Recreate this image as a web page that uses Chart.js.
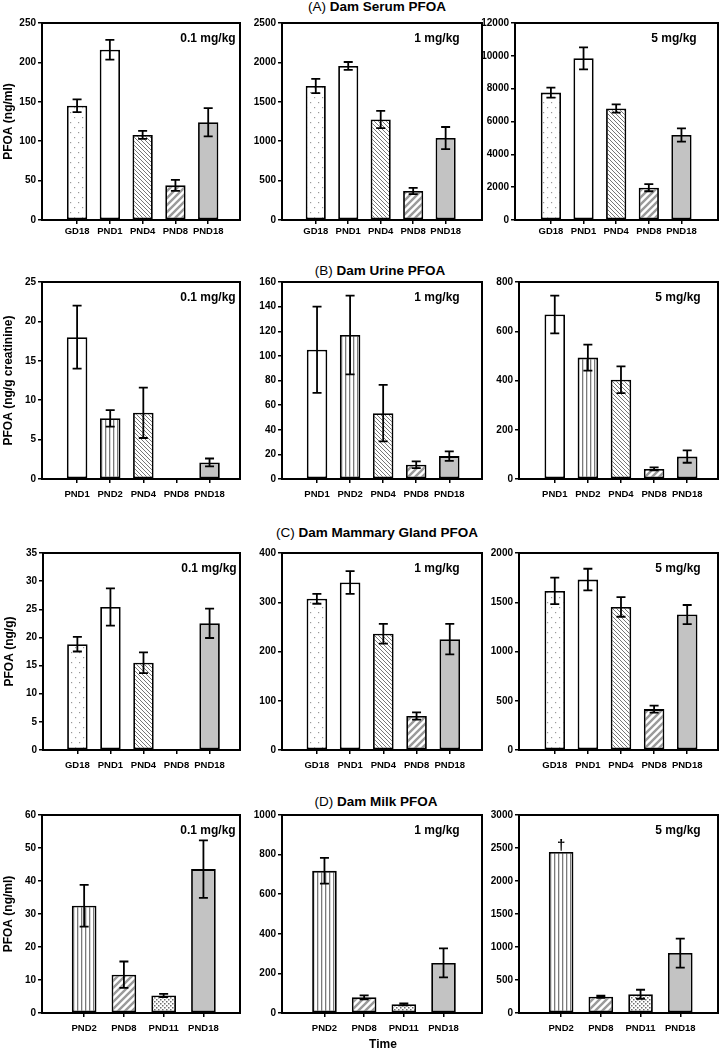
<!DOCTYPE html>
<html>
<head>
<meta charset="utf-8">
<title>Dam PFOA</title>
<script src="https://cdn.jsdelivr.net/npm/chart.js@4.4.1/dist/chart.umd.min.js"></script>
<style>
  body { margin: 0; background: #fff; }
  #fig { position: relative; width: 721px; height: 1049px; font-family: "Liberation Sans", Arial, sans-serif; color: #000; }
  #fig canvas { position: absolute; }
  .rowTitle { position: absolute; width: 300px; text-align: center; font-size: 13.5px; line-height: 16px; white-space: nowrap; }
  #timeLabel { position: absolute; width: 100px; text-align: center; font-size: 12px; font-weight: bold; line-height: 14px; }
</style>
</head>
<body>
<div id="fig"></div>
<script>
// categorias de cada fila
const serumCats = ['GD18', 'PND1', 'PND4', 'PND8', 'PND18'];
const urineCats = ['PND1', 'PND2', 'PND4', 'PND8', 'PND18'];
const mammaryCats = ['GD18', 'PND1', 'PND4', 'PND8', 'PND18'];
const milkCats = ['PND2', 'PND8', 'PND11', 'PND18'];
const doses = ['0.1 mg/kg', '1 mg/kg', '5 mg/kg'];

// (A) suero
const serumLow = [145, 216, 108, 44, 124];
const serumLowErr = [8, 12.5, 5, 7, 18];
const serumMid = [1700, 1955, 1275, 368, 1040];
const serumMidErr = [90, 50, 110, 40, 140];
const serumHigh = [7760, 9850, 6790, 1970, 5180];
const serumHighErr = [300, 670, 250, 220, 400];

// (B) orina
const urineLow = [18, 7.7, 8.4, null, 2.1];
const urineLowErr = [4, 1.05, 3.2, null, 0.5];
const urineMid = [105, 117, 53.5, 11.6, 18.6];
const urineMidErr = [35, 32, 23, 2.7, 3.8];
const urineHigh = [668, 493, 403, 41, 91];
const urineHighErr = [77, 53, 54, 6, 25];

// (C) glandula mamaria
const mammaryLow = [18.8, 25.4, 15.5, null, 22.5];
const mammaryLowErr = [1.3, 3.3, 1.85, null, 2.6];
const mammaryMid = [307, 340, 236, 69, 225];
const mammaryMidErr = [10, 23, 20, 7.5, 31];
const mammaryHigh = [1615, 1730, 1453, 415, 1375];
const mammaryHighErr = [135, 110, 100, 35, 97];

// (D) leche
const milkLow = [32.5, 11.6, 5.3, 43.6];
const milkLowErr = [6.3, 4, 0.5, 8.7];
const milkMid = [718, 79, 44, 253];
const milkMidErr = [65, 10, 5, 73];
const milkHigh = [2440, 246, 284, 908];
const milkHighErr = [null, 15, 68, 220];
const milkHighMark = ['\u2020', '', '', ''];

// ejes y
const serumMax = [250, 2500, 12000];
const serumStep = [50, 500, 2000];
const urineMax = [25, 160, 800];
const urineStep = [5, 20, 200];
const mammaryMax = [35, 400, 2000];
const mammaryStep = [5, 100, 500];
const milkMax = [60, 1000, 3000];
const milkStep = [10, 200, 500];

const rows = [
  { title: ['(A)', 'Dam Serum PFOA'], yTitle: 'PFOA (ng/ml)', cats: serumCats,
    values: [serumLow, serumMid, serumHigh], errors: [serumLowErr, serumMidErr, serumHighErr],
    marks: [null, null, null], yMax: serumMax, yStep: serumStep },
  { title: ['(B)', 'Dam Urine PFOA'], yTitle: 'PFOA (ng/g creatinine)', cats: urineCats,
    values: [urineLow, urineMid, urineHigh], errors: [urineLowErr, urineMidErr, urineHighErr],
    marks: [null, null, null], yMax: urineMax, yStep: urineStep },
  { title: ['(C)', 'Dam Mammary Gland PFOA'], yTitle: 'PFOA (ng/g)', cats: mammaryCats,
    values: [mammaryLow, mammaryMid, mammaryHigh], errors: [mammaryLowErr, mammaryMidErr, mammaryHighErr],
    marks: [null, null, null], yMax: mammaryMax, yStep: mammaryStep },
  { title: ['(D)', 'Dam Milk PFOA'], yTitle: 'PFOA (ng/ml)', cats: milkCats,
    values: [milkLow, milkMid, milkHigh], errors: [milkLowErr, milkMidErr, milkHighErr],
    marks: [null, null, milkHighMark], yMax: milkMax, yStep: milkStep }
];

// posiciones de cada panel (px)
const rowBox = [[23, 220], [282, 479], [553, 750], [815, 1013]];
const colBox = [
  [[42, 240], [282, 482], [515, 718]],
  [[42, 240], [282, 482], [519, 718]],
  [[43, 240], [282, 482], [519, 718]],
  [[42, 240], [282, 482], [519, 718]]
];
const xRange = [
  [[-1.07, 4.97], [-1.04, 5.12], [-1.10, 5.12]],
  [[-1.06, 4.92], [-1.06, 4.99], [-1.08, 4.93]],
  [[-1.04, 4.92], [-1.05, 4.97], [-1.08, 4.93]],
  [[-1.06, 3.92], [-1.07, 3.97], [-1.06, 3.95]]
];
const titleCenter = [[377, 7], [380, 271], [377, 533], [376, 802]];
const doseX = [166, 155, 159];
const tickPad = [2, 5.5, 5.5, 5.5];

const FONT = '"Liberation Sans", Arial, sans-serif';

// tramas de relleno
function makePattern(w, h, draw) {
  const c = document.createElement('canvas');
  c.width = w; c.height = h;
  const g = c.getContext('2d');
  g.fillStyle = '#fff';
  g.fillRect(0, 0, w, h);
  draw(g);
  return g.createPattern(c, 'repeat');
}

const fills = {
  GD18: makePattern(8, 10, g => {
    g.fillStyle = '#999999';
    g.fillRect(2, 2, 1.2, 1.2);
    g.fillRect(6, 7, 1.2, 1.2);
  }),
  PND1: '#ffffff',
  PND2: makePattern(4, 4, g => {
    g.fillStyle = '#7a7a7a';
    g.fillRect(1, 0, 1.3, 4);
  }),
  PND4: makePattern(4, 4, g => {
    g.strokeStyle = '#777777';
    g.lineWidth = 1;
    g.beginPath();
    g.moveTo(-1, -1); g.lineTo(5, 5);
    g.moveTo(-1, 3); g.lineTo(1, 5);
    g.moveTo(3, -1); g.lineTo(5, 1);
    g.stroke();
  }),
  PND8: makePattern(7, 7, g => {
    g.strokeStyle = '#9a9a9a';
    g.lineWidth = 2.4;
    g.beginPath();
    g.moveTo(-1, 8); g.lineTo(8, -1);
    g.moveTo(-4.5, 4.5); g.lineTo(4.5, -4.5);
    g.moveTo(2.5, 11.5); g.lineTo(11.5, 2.5);
    g.stroke();
  }),
  PND11: makePattern(4, 4, g => {
    g.fillStyle = '#6e6e6e';
    g.fillRect(0, 0, 1.5, 1.5);
    g.fillRect(2, 2, 1.5, 1.5);
  }),
  PND18: '#c3c3c3'
};

// barras de error, marco, dosis y marca
const panelDecor = {
  id: 'panelDecor',
  afterDatasetsDraw(chart, args, opts) {
    const { ctx, chartArea: a } = chart;
    const y = chart.scales.y;
    const meta = chart.getDatasetMeta(0);
    const pts = chart.data.datasets[0].data;
    ctx.save();
    ctx.strokeStyle = '#000';
    ctx.fillStyle = '#000';
    ctx.lineWidth = 1.8;
    meta.data.forEach((bar, i) => {
      const p = pts[i];
      if (p.err) {
        const yTop = y.getPixelForValue(p.y + p.err);
        const yBot = y.getPixelForValue(p.y - p.err);
        ctx.beginPath();
        ctx.moveTo(bar.x, yTop); ctx.lineTo(bar.x, yBot);
        ctx.moveTo(bar.x - 4.5, yTop); ctx.lineTo(bar.x + 4.5, yTop);
        ctx.moveTo(bar.x - 4.5, yBot); ctx.lineTo(bar.x + 4.5, yBot);
        ctx.stroke();
      }
      if (p.mark) {
        ctx.font = 'bold 15px ' + FONT;
        ctx.textAlign = 'center';
        ctx.textBaseline = 'bottom';
        ctx.fillText(p.mark, bar.x, bar.y + 1);
      }
    });
    ctx.lineWidth = 2;
    ctx.strokeRect(a.left, a.top, a.right - a.left, a.bottom - a.top);
    ctx.font = 'bold 12px ' + FONT;
    ctx.textAlign = 'center';
    ctx.textBaseline = 'middle';
    ctx.fillText(opts.dose, a.left + opts.doseX, a.top + 16);
    ctx.restore();
  }
};

const fig = document.getElementById('fig');

rows.forEach((row, r) => {
  const t = document.createElement('div');
  t.className = 'rowTitle';
  t.style.left = (titleCenter[r][0] - 150) + 'px';
  t.style.top = (titleCenter[r][1] - 8) + 'px';
  t.innerHTML = row.title[0] + ' <b>' + row.title[1] + '</b>';
  fig.appendChild(t);

  for (let c = 0; c < 3; c++) {
    const [L, R] = colBox[r][c];
    const [T, B] = rowBox[r];
    const yW = 42;
    const canvas = document.createElement('canvas');
    const w = (R - L) + yW + 6;
    const h = (B - T) + 8 + 22;
    canvas.width = w; canvas.height = h;
    canvas.style.width = w + 'px'; canvas.style.height = h + 'px';
    canvas.style.left = (L - yW) + 'px';
    canvas.style.top = (T - 8) + 'px';
    fig.appendChild(canvas);

    const cats = row.cats;
    const vals = row.values[c];
    const errs = row.errors[c];
    const marks = row.marks[c];
    const pts = [];
    const bg = [];
    vals.forEach((v, i) => {
      if (v === null) return;
      pts.push({ x: i, y: v, err: errs[i], mark: marks ? marks[i] : '' });
      bg.push(fills[cats[i]]);
    });

    new Chart(canvas.getContext('2d'), {
      type: 'bar',
      data: {
        datasets: [{
          data: pts,
          backgroundColor: bg,
          borderColor: '#000',
          borderWidth: 1.8,
          borderSkipped: false,
          barPercentage: 0.62,
          categoryPercentage: 1
        }]
      },
      plugins: [panelDecor],
      options: {
        responsive: false,
        animation: false,
        events: [],
        layout: { padding: { left: 0, top: 8, right: 6, bottom: 0 } },
        plugins: {
          legend: { display: false },
          tooltip: { enabled: false },
          panelDecor: { dose: doses[c], doseX: doseX[c] }
        },
        scales: {
          x: {
            type: 'linear',
            min: xRange[r][c][0],
            max: xRange[r][c][1],
            offset: false,
            border: { display: false },
            grid: { display: true, drawOnChartArea: false, offset: false, tickLength: 4, color: '#000', lineWidth: 1.5 },
            ticks: {
              color: '#000',
              font: { family: FONT, size: 9.5, weight: 'bold' },
              padding: tickPad[r],
              autoSkip: false,
              maxRotation: 0,
              callback: v => cats[v] !== undefined ? cats[v] : ''
            },
            afterBuildTicks: s => { s.ticks = cats.map((_, i) => ({ value: i })); },
            afterFit: s => { s.height = 22; }
          },
          y: {
            min: 0,
            max: row.yMax[c],
            border: { display: false },
            grid: { display: true, drawOnChartArea: false, tickLength: 4, color: '#000', lineWidth: 1.5 },
            ticks: {
              stepSize: row.yStep[c],
              color: '#000',
              font: { family: FONT, size: 10, weight: 'bold' },
              padding: 2,
              callback: v => String(v)
            },
            title: {
              display: c === 0,
              text: row.yTitle,
              color: '#000',
              font: { family: FONT, size: 12, weight: 'bold' },
              padding: { top: 1, bottom: 0 }
            },
            afterFit: s => { s.width = yW; }
          }
        }
      }
    });
  }
});

const time = document.createElement('div');
time.id = 'timeLabel';
time.textContent = 'Time';
time.style.left = (383 - 50) + 'px';
time.style.top = (1044 - 7) + 'px';
fig.appendChild(time);
</script>
</body>
</html>
